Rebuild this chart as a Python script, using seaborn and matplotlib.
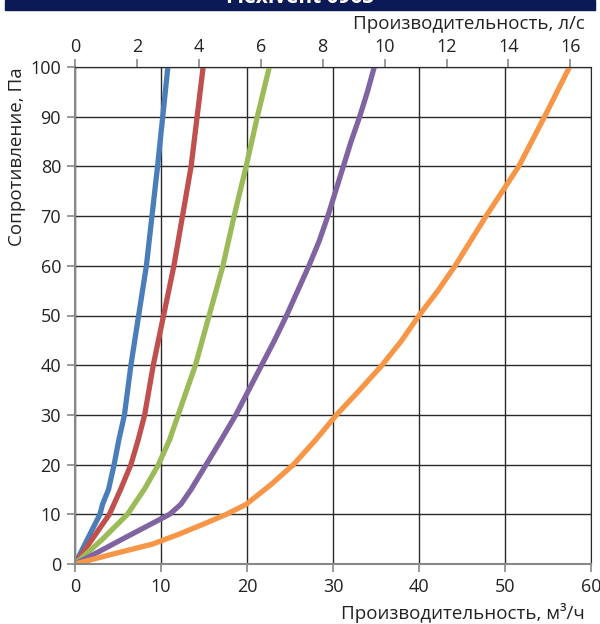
import matplotlib
matplotlib.use("Agg")
import matplotlib.pyplot as plt
import seaborn as sns
import pandas as pd
from matplotlib.patches import Rectangle

# Data (m³/h vs Pa)
blue_x = [0, 1.45, 2.9, 3.2, 3.9, 4.55, 5.1, 5.75, 6.5, 7.4, 8.3, 8.95, 9.6, 10.2, 10.8]
blue_y = [0, 5, 10, 12, 15, 20, 25, 30, 40, 50, 60, 70, 80, 90, 100]
red_x = [0, 2.0, 4.0, 5.3, 6.5, 7.35, 8.1, 9.1, 10.3, 11.5, 12.5, 13.5, 14.2, 14.9]
red_y = [0, 5, 10, 15, 20, 25, 30, 40, 50, 60, 70, 80, 90, 100]
green_x = [0, 3.2, 6.1, 8.05, 9.7, 11.0, 12.0, 14.0, 15.6, 17.2, 18.5, 19.9, 21.2, 22.6]
green_y = [0, 5, 10, 15, 20, 25, 30, 40, 50, 60, 70, 80, 90, 100]
purple_x = [0, 2.8, 5.5, 8.8, 11.0, 12.3, 13.5, 15.25, 17.0, 18.7, 20.2, 21.7, 23.2, 24.6,
            25.9, 27.2, 28.4, 29.4, 30.3, 31.2, 32.1, 33.1, 34.0, 34.8]
purple_y = [0, 2.5, 5, 8, 10, 12, 15, 20, 25, 30, 35, 40, 45, 50,
            55, 60, 65, 70, 75, 80, 85, 90, 95, 100]
orange_x = [0, 4.4, 9.0, 12.1, 14.9, 17.6, 19.9, 22.8, 25.4, 28.0, 30.4, 33.1, 35.7, 38.0,
            40.0, 42.2, 44.2, 46.0, 47.8, 49.7, 51.6, 53.1, 54.6, 57.5]
orange_y = [0, 2, 4, 6, 8, 10, 12, 16, 20, 25, 30, 35, 40, 45,
            50, 55, 60, 65, 70, 75, 80, 85, 90, 100]

series = [
    (blue_x, blue_y, "#4a7ebb"),
    (red_x, red_y, "#c0504d"),
    (green_x, green_y, "#9bbb59"),
    (purple_x, purple_y, "#8064a2"),
    (orange_x, orange_y, "#f79646"),
]

title = "Flexivent 0963"
xlabel = "Производительность, м³/ч"
x2label = "Производительность, л/с"
ylabel = "Сопротивление, Па"

sns.set_style("white")
plt.rcParams['font.family'] = ['Open Sans', 'DejaVu Sans']

fig = plt.figure(figsize=(6, 6.24), dpi=100)
ax = fig.add_axes([75/600, 60/624, 516/600, 497/624])

for xs, ys, c in series:
    df = pd.DataFrame({"x": xs, "y": ys})
    sns.lineplot(data=df, x="x", y="y", ax=ax, color=c, linewidth=3.8,
                 sort=False, estimator=None, solid_capstyle="round",
                 solid_joinstyle="round")

ax.set_xlim(0, 60)
ax.set_ylim(0, 100)
ax.set_xticks(range(0, 61, 10))
ax.set_yticks(range(0, 101, 10))
ax.grid(True, color="#2a2a2a", linewidth=1.0)
ax.set_axisbelow(True)
for s in ["left", "bottom"]:
    ax.spines[s].set_color("#888888")
    ax.spines[s].set_linewidth(1.5)
ax.spines["top"].set_color("#2a2a2a")
ax.spines["right"].set_color("#2a2a2a")
ax.tick_params(axis="both", which="both", direction="out", length=6, width=1.2,
               color="#888888", labelsize=13, labelcolor="#222222",
               bottom=True, left=True, pad=4)

ax.set_xlabel(xlabel, fontsize=13.5, color="#222222", ha="right", va="center")
ax.xaxis.set_label_coords((585 - 75) / 516, (564 - 613) / 497)
ax.set_ylabel(ylabel, fontsize=13.5, color="#222222", ha="center", va="center")
ax.yaxis.set_label_coords((17 - 75) / 516, (564 - 157) / 497)

ax2 = ax.secondary_xaxis("top", functions=(lambda v: v / 3.6, lambda v: v * 3.6))
ax2.set_xticks(range(0, 17, 2))
ax2.tick_params(direction="out", length=6, width=1.2, color="#888888",
                labelsize=13, labelcolor="#222222", pad=2)
ax2.spines["top"].set_color("#2a2a2a")
ax2.set_xlabel(x2label, fontsize=13.5, color="#222222", ha="right", va="center")
ax2.xaxis.set_label_coords((585 - 75) / 516, (564 - 24) / 497, transform=ax.transAxes)

# Title banner (clipped at top)
fig.patches.append(Rectangle((5/600, 1 - 10/624), 590/600, 10/624,
                             transform=fig.transFigure, color="#0b1a55", zorder=0))
fig.text(0.5, 1 - 3/624, title, ha="center", va="baseline", color="white",
         fontsize=15, fontweight="bold")

fig.savefig("out.png", dpi=100)
